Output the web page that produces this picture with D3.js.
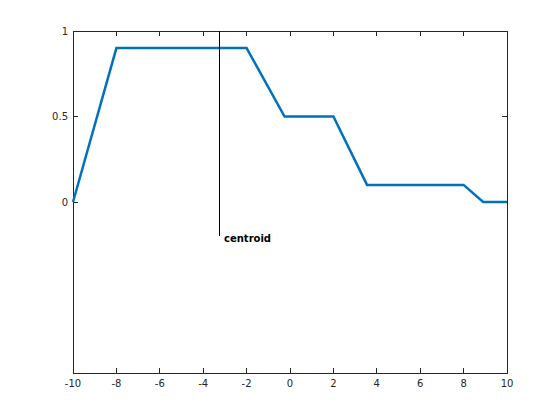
<!DOCTYPE html>
<html>
<head>
<meta charset="utf-8">
<script src="https://cdn.jsdelivr.net/npm/d3@7"></script>
<style>
  body { margin: 0; background: #fff; }
  text { font-family: "DejaVu Sans", sans-serif; }
</style>
</head>
<body>
<script>
// aggregated output membership curve
const xs = [-10, -8, -2, -0.25, 2, 3.55, 8, 8.9, 10];
const ys = [0, 0.9, 0.9, 0.5, 0.5, 0.1, 0.1, 0, 0];
const centroid = -3.27;
const xTicks = [-10, -8, -6, -4, -2, 0, 2, 4, 6, 8, 10];
const yTicks = [0, 0.5, 1];

const W = 560, H = 420;
const m = { left: 73, right: 53, top: 31, bottom: 47 };

const svg = d3.select('body').append('svg')
  .attr('width', W).attr('height', H);

const x = d3.scaleLinear().domain([-10, 10]).range([m.left, W - m.right]);
const y = d3.scaleLinear().domain([-1, 1]).range([H - m.bottom, m.top]);

const TICK = 5;
const axisCol = '#262626';

// box
svg.append('rect')
  .attr('x', x(-10)).attr('y', y(1))
  .attr('width', x(10) - x(-10)).attr('height', y(-1) - y(1))
  .attr('fill', 'none').attr('stroke', axisCol).attr('stroke-width', 1)
  .attr('shape-rendering', 'crispEdges');

// x ticks, inward, bottom & top
const xt = svg.append('g').attr('shape-rendering', 'crispEdges');
xTicks.forEach(t => {
  xt.append('line').attr('x1', x(t)).attr('x2', x(t))
    .attr('y1', y(-1)).attr('y2', y(-1) - TICK).attr('stroke', axisCol);
  xt.append('line').attr('x1', x(t)).attr('x2', x(t))
    .attr('y1', y(1)).attr('y2', y(1) + TICK).attr('stroke', axisCol);
  svg.append('text').attr('x', x(t)).attr('y', y(-1) + 14)
    .attr('text-anchor', 'middle').attr('font-size', 10).attr('fill', axisCol)
    .text(t);
});

// y ticks, inward, left & right
yTicks.forEach(t => {
  xt.append('line').attr('x1', x(-10)).attr('x2', x(-10) + TICK)
    .attr('y1', y(t)).attr('y2', y(t)).attr('stroke', axisCol);
  xt.append('line').attr('x1', x(10)).attr('x2', x(10) - TICK)
    .attr('y1', y(t)).attr('y2', y(t)).attr('stroke', axisCol);
  svg.append('text').attr('x', x(-10) - 5).attr('y', y(t) + 3.5)
    .attr('text-anchor', 'end').attr('font-size', 10).attr('fill', axisCol)
    .text(t);
});

// curve
const pts = xs.map((v, i) => [v, ys[i]]);
svg.append('path')
  .datum(pts)
  .attr('d', d3.line().x(d => x(d[0])).y(d => y(d[1])))
  .attr('fill', 'none').attr('stroke', '#0072BD').attr('stroke-width', 2.5)
  .attr('stroke-linejoin', 'miter');

// centroid marker
svg.append('line')
  .attr('x1', x(centroid)).attr('x2', x(centroid))
  .attr('y1', y(-0.2)).attr('y2', y(1))
  .attr('stroke', '#000').attr('stroke-width', 1)
  .attr('shape-rendering', 'crispEdges');
svg.append('text')
  .attr('x', x(centroid) + 5).attr('y', y(-0.2) + 5.5)
  .attr('font-size', 10).attr('font-weight', 'bold').attr('fill', '#000')
  .text('centroid');
</script>
</body>
</html>
